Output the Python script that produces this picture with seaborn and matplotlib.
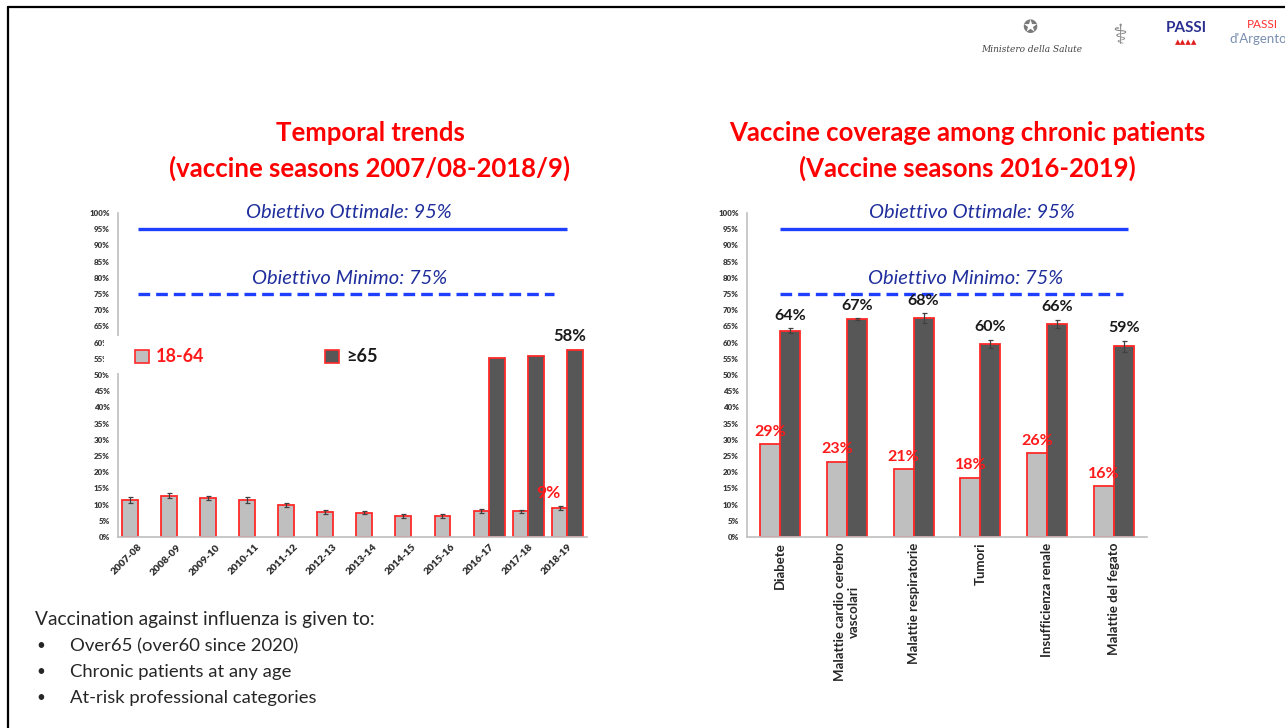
import numpy as np
import pandas as pd
import matplotlib
matplotlib.use("Agg")
import matplotlib.pyplot as plt
import seaborn as sns
from matplotlib.patches import Patch, Rectangle
from matplotlib.lines import Line2D
from matplotlib.ticker import PercentFormatter

# data

seasons = ['2007-08', '2008-09', '2009-10', '2010-11', '2011-12', '2012-13',
           '2013-14', '2014-15', '2015-16', '2016-17', '2017-18', '2018-19']
trend_18_64 = [11.4, 12.8, 12.0, 11.4, 10.0, 7.7, 7.5, 6.5, 6.5, 7.9, 7.9, 9.0]
trend_18_64_err = [0.9, 0.7, 0.7, 0.8, 0.6, 0.5, 0.5, 0.5, 0.5, 0.6, 0.5, 0.6]
trend_65 = [np.nan, np.nan, np.nan, np.nan, np.nan, np.nan,
            np.nan, np.nan, np.nan, 55.2, 55.9, 57.8]
trend_labelled = ['2018-19']

chronic = ['Diabete', 'Malattie cardio cerebro\nvascolari', 'Malattie respiratorie',
           'Tumori', 'Insufficienza renale', 'Malattie del fegato']
chronic_18_64 = [28.6, 23.3, 20.9, 18.2, 25.8, 15.6]
chronic_65 = [63.7, 67.3, 67.6, 59.6, 65.8, 58.9]
chronic_65_err = [0.7, 0.2, 1.5, 1.3, 1.3, 1.7]

groups = ['18-64', '≥65']
targets = [95, 75]
target_labels = ['Obiettivo Ottimale: 95%', 'Obiettivo Minimo: 75%']

bullets = ['Over65 (over60 since 2020)', 'Chronic patients at any age',
           'At-risk professional categories']

# style

sns.set_style('white')
plt.rcParams['font.family'] = ['Lato', 'DejaVu Sans']

LIGHT = '#BFBFBF'
DARK = '#575757'
EDGE = '#FF2A2A'
BLUE = '#1F3FFF'
NAVY = '#1F2E9C'
palette = {groups[0]: LIGHT, groups[1]: DARK}

W, H = 1285, 728
def fx(p):
    return p / W
def fy(p):
    return 1 - p / H

fig = plt.figure(figsize=(12.85, 7.28), dpi=100)
axL = fig.add_axes([fx(118), fy(537), 469 / W, 324 / H])
axR = fig.add_axes([fx(747), fy(537), 400 / W, 324 / H])

dfL = pd.DataFrame({'cat': seasons * 2,
                    'group': [groups[0]] * len(seasons) + [groups[1]] * len(seasons),
                    'value': trend_18_64 + trend_65})
dfR = pd.DataFrame({'cat': chronic * 2,
                    'group': [groups[0]] * len(chronic) + [groups[1]] * len(chronic),
                    'value': chronic_18_64 + chronic_65})

sns.barplot(data=dfL, x='cat', y='value', hue='group', order=seasons, hue_order=groups,
            palette=palette, saturation=1, width=0.8, edgecolor=EDGE, linewidth=1.3,
            errorbar=None, legend=False, ax=axL)
sns.barplot(data=dfR, x='cat', y='value', hue='group', order=chronic, hue_order=groups,
            palette=palette, saturation=1, width=0.6, edgecolor=EDGE, linewidth=1.3,
            errorbar=None, legend=False, ax=axR)


def style_axis(ax, n):
    ax.set_xlim(-0.5, n - 0.5)
    ax.set_ylim(0, 100)
    ax.set_yticks(range(0, 101, 5))
    ax.yaxis.set_major_formatter(PercentFormatter(decimals=0))
    ax.set_xlabel('')
    ax.set_ylabel('')
    for s in ['top', 'right']:
        ax.spines[s].set_visible(False)
    for s in ['left', 'bottom']:
        ax.spines[s].set_color('#BFBFBF')
        ax.spines[s].set_linewidth(1.2)
    ax.set_xticks(np.arange(n + 1) - 0.5, minor=True)
    ax.tick_params(axis='x', which='major', length=0, pad=4)
    ax.tick_params(axis='x', which='minor', length=4, color='#BFBFBF', width=1)
    ax.tick_params(axis='y', length=3, color='#BFBFBF', labelsize=5.8,
                   labelcolor='#3A3A3A', pad=3)
    for t in ax.get_yticklabels():
        t.set_fontweight('heavy')


style_axis(axL, len(seasons))
style_axis(axR, len(chronic))

axL.set_xticks(range(len(seasons)))
axL.set_xticklabels(seasons, rotation=45, ha='right', rotation_mode='anchor',
                    fontsize=7.4, fontweight='heavy', color='#2E2E2E')
axR.set_xticks(range(len(chronic)))
axR.set_xticklabels(chronic, rotation=90, ha='center', va='top', fontsize=9.5,
                    fontweight='bold', color='#262626', multialignment='center')

# error bars
ekw = dict(fmt='none', ecolor='#404040', elinewidth=0.9, capsize=1.8, capthick=0.9, zorder=4)
for bar, e in zip(axL.containers[0], trend_18_64_err):
    axL.errorbar(bar.get_x() + bar.get_width() / 2, bar.get_height(), yerr=e, **ekw)
for bar, e in zip(axR.containers[1], chronic_65_err):
    axR.errorbar(bar.get_x() + bar.get_width() / 2, bar.get_height(), yerr=e, **ekw)

# value labels
for bar, s, v in zip(axL.containers[0], seasons, trend_18_64):
    if s in trend_labelled:
        axL.annotate(f'{round(v)}%', (bar.get_x() + bar.get_width() / 2, v),
                     xytext=(-8, 5), textcoords='offset points', ha='center', va='bottom',
                     color='#FF1A1A', fontsize=12.5, fontweight='bold')
dark_seasons = [s for s, v in zip(seasons, trend_65) if not np.isnan(v)]
dark_values = [v for v in trend_65 if not np.isnan(v)]
for bar, s, v in zip(axL.containers[1], dark_seasons, dark_values):
    if s in trend_labelled:
        axL.annotate(f'{round(v)}%', (bar.get_x() + bar.get_width() / 2, v),
                     xytext=(-4, 4), textcoords='offset points', ha='center', va='bottom',
                     color='#1A1A1A', fontsize=12, fontweight='bold')

for bar, v in zip(axR.containers[0], chronic_18_64):
    axR.annotate(f'{round(v)}%', (bar.get_x() + bar.get_width() / 2, v),
                 xytext=(0, 4), textcoords='offset points', ha='center', va='bottom',
                 color='#FF1A1A', fontsize=11.5, fontweight='bold')
for bar, v, e in zip(axR.containers[1], chronic_65, chronic_65_err):
    axR.annotate(f'{round(v)}%', (bar.get_x() + bar.get_width() / 2, v + e),
                 xytext=(0, 4), textcoords='offset points', ha='center', va='bottom',
                 color='#1A1A1A', fontsize=11.5, fontweight='bold')

# target lines
dash = (0, (3.5, 1.8))
axL.hlines(targets[0], 0, 11.0, color=BLUE, lw=2.4)
axL.hlines(targets[1], 0, 10.65, color=BLUE, lw=2.4, linestyles=[dash])
axL.text(5.42, 100.3, target_labels[0], ha='center', va='center', style='italic',
         color=NAVY, fontsize=14.5)
axL.text(5.42, 79.8, target_labels[1], ha='center', va='center', style='italic',
         color=NAVY, fontsize=14.5)
axR.hlines(targets[0], 0, 5.21, color=BLUE, lw=2.4)
axR.hlines(targets[1], 0, 5.14, color=BLUE, lw=2.4, linestyles=[dash])
axR.text(2.87, 100.3, target_labels[0], ha='center', va='center', style='italic',
         color=NAVY, fontsize=14.5)
axR.text(2.78, 79.8, target_labels[1], ha='center', va='center', style='italic',
         color=NAVY, fontsize=14.5)

# legend box (white, covers part of the left axis)
fig.add_artist(Rectangle((fx(104), fy(373)), 300 / W, 37 / H, transform=fig.transFigure,
                         facecolor='white', edgecolor='none', zorder=3))
legkw = dict(loc='center left', frameon=False, borderpad=0, borderaxespad=0,
             handlelength=0.75, handleheight=0.75, handletextpad=0.4,
             prop=dict(weight='bold', size=13))
leg1 = fig.legend(handles=[Patch(facecolor=LIGHT, edgecolor=EDGE, lw=1.2)], labels=[groups[0]],
                  bbox_to_anchor=(fx(135), fy(357)), **legkw)
leg1.get_texts()[0].set_color('#FF1A1A')
leg1.set_zorder(6)
leg2 = fig.legend(handles=[Patch(facecolor=DARK, edgecolor=EDGE, lw=1.2)], labels=[groups[1]],
                  bbox_to_anchor=(fx(325), fy(357)), **legkw)
leg2.get_texts()[0].set_color('#1A1A1A')
leg2.set_zorder(6)

# titles
fig.text(fx(370), fy(151), 'Temporal trends\n(vaccine seasons 2007/08-2018/9)',
         ha='center', va='center', color='#FF0000', fontsize=18.5, fontweight='bold',
         linespacing=1.5)
fig.text(fx(967), fy(151), 'Vaccine coverage among chronic patients\n(Vaccine seasons 2016-2019)',
         ha='center', va='center', color='#FF0000', fontsize=18.5, fontweight='bold',
         linespacing=1.5)

# bottom notes
fig.text(fx(35), fy(620), 'Vaccination against influenza is given to:', va='center',
         fontsize=13.8, color='#262626')
for i, item in enumerate(bullets):
    y = fy(646 + 26 * i)
    fig.text(fx(36), y, '•', va='center', fontsize=11, color='#262626')
    fig.text(fx(70), y, item, va='center', fontsize=13.3, color='#262626')

# header logos (text stand-ins)
fig.text(fx(1032), fy(50), 'Ministero della Salute', ha='center', va='center',
         fontsize=6.5, style='italic', family='DejaVu Serif', color='#444444')
fig.text(fx(1030), fy(28), '✪', ha='center', va='center', fontsize=13,
         family='DejaVu Sans', color='#7A7A7A')
fig.text(fx(1120), fy(36), '⚕', ha='center', va='center', fontsize=20,
         family='DejaVu Sans', color='#8A8A8A')
fig.text(fx(1186), fy(28), 'PASSI', ha='center', va='center', fontsize=11,
         fontweight='bold', color='#2B2F8F')
fig.text(fx(1186), fy(42), '▴▴▴▴', ha='center', va='center', fontsize=8,
         family='DejaVu Sans', color='#E02020')
fig.text(fx(1262), fy(24), 'PASSI', ha='center', va='center', fontsize=8.5, color='#FF3030')
fig.text(fx(1258), fy(39), "d'Argento", ha='center', va='center', fontsize=9.5,
         color='#7A8FB0')

# slide border
fig.add_artist(Line2D([fx(8), fx(8)], [fy(7), 0], color='black', lw=1.6))
fig.add_artist(Line2D([fx(8), 1], [fy(7), fy(7)], color='black', lw=1.6))

fig.savefig('out.png', dpi=100)
